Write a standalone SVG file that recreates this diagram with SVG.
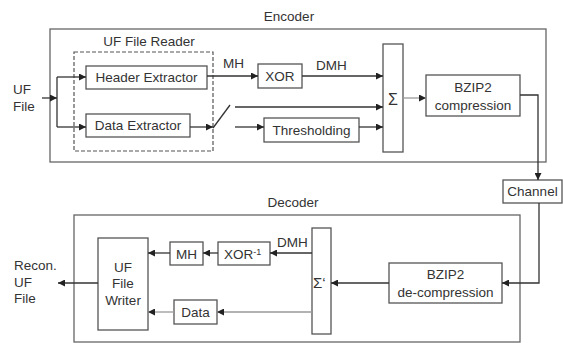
<svg xmlns="http://www.w3.org/2000/svg" width="563" height="343" viewBox="0 0 563 343">
<defs>
<marker id="ah" viewBox="0 0 10 10" refX="10" refY="5" markerWidth="7" markerHeight="7" markerUnits="userSpaceOnUse" orient="auto"><path d="M0,0 L10,5 L0,10 z" fill="#222"/></marker>
</defs>
<style>
text{font-family:"Liberation Sans",Arial,sans-serif;font-size:13.5px;fill:#333}
.m{text-anchor:middle}
.box{fill:#fff;stroke:#555;stroke-width:1.3}
.frame{fill:none;stroke:#666;stroke-width:1.3}
.dash{fill:none;stroke:#555;stroke-width:1.2;stroke-dasharray:4 2}
.ln{fill:none;stroke:#333;stroke-width:1.3}
.lt{fill:none;stroke:#999;stroke-width:1.3}
.ar{marker-end:url(#ah)}
</style>
<rect width="563" height="343" fill="#fff"/>
<g id="encoder">
<rect class="frame" x="50" y="29" width="496" height="133"/>
<text class="m" x="289" y="21">Encoder</text>
</g>
<g id="uf-file-reader">
<rect class="dash" x="74" y="52" width="139" height="99"/>
<text class="m" x="149" y="46">UF File Reader</text>
</g>
<g id="uf-file-in"><text x="13" y="94">UF</text><text x="13" y="111">File</text></g>
<g id="header-extractor"><rect class="box" x="86" y="66" width="121" height="23"/><text class="m" x="146.5" y="82">Header Extractor</text></g>
<g id="data-extractor"><rect class="box" x="86" y="114" width="104" height="23"/><text class="m" x="138" y="130">Data Extractor</text></g>
<g id="xor"><rect class="box" x="258" y="64" width="44" height="24"/><text class="m" x="280" y="81">XOR</text></g>
<g id="thresholding"><rect class="box" x="264" y="118" width="95" height="24"/><text class="m" x="311.5" y="135">Thresholding</text></g>
<g id="sum"><rect class="box" x="383" y="44" width="20" height="108"/><text class="m" x="393" y="105" style="font-size:16px">Σ</text></g>
<g id="bzip2"><rect class="box" x="426" y="75" width="94" height="41"/><text class="m" x="473" y="92">BZIP2</text><text class="m" x="473" y="110">compression</text></g>
<g id="channel"><rect class="box" x="503" y="180" width="59" height="23"/><text class="m" x="532.5" y="196">Channel</text></g>
<g id="decoder">
<rect class="frame" x="74" y="215" width="446" height="127"/>
<text class="m" x="293" y="207">Decoder</text>
</g>
<g id="bzip2-de"><rect class="box" x="389" y="263" width="113" height="40"/><text class="m" x="445.5" y="279">BZIP2</text><text class="m" x="445.5" y="297">de-compression</text></g>
<g id="sum-inv"><rect class="box" x="312" y="228" width="19" height="106"/><text x="313" y="288" style="font-size:15px">Σ‘</text></g>
<g id="xor-inv"><rect class="box" x="218" y="242" width="52" height="23"/><text x="224" y="259">XOR<tspan dy="-4" style="font-size:9px">-1</tspan></text></g>
<g id="mh"><rect class="box" x="170" y="242" width="33" height="23"/><text class="m" x="186.5" y="259">MH</text></g>
<g id="data"><rect class="box" x="174" y="300" width="43" height="24"/><text class="m" x="195.5" y="317">Data</text></g>
<g id="uf-file-writer"><rect class="box" x="98" y="238" width="50" height="92"/><text class="m" x="123" y="272">UF</text><text class="m" x="123" y="288">File</text><text class="m" x="123" y="305">Writer</text></g>
<g id="recon-out"><text x="14" y="270">Recon.</text><text x="14" y="287">UF</text><text x="14" y="303">File</text></g>
<g id="connectors">
<path class="ln ar" d="M42,98 H57"/>
<path class="ln" d="M57,77 V127"/>
<path class="ln ar" d="M57,77 H86"/>
<path class="ln ar" d="M57,127 H86"/>
<path class="ln ar" d="M207,76 H258"/>
<text x="223" y="68">MH</text>
<path class="ln ar" d="M302,76 H383"/>
<text x="316" y="70">DMH</text>
<path class="ln ar" d="M190,127 H213"/>
<path class="ln" d="M213,128 L230,105"/>
<path class="ln ar" d="M235,107 H383"/>
<path class="ln ar" d="M235,127 H264"/>
<path class="ln ar" d="M359,127 H383"/>
<path class="lt ar" d="M403,98 H426"/>
<path class="ln ar" d="M520,95 H538 V180"/>
<path class="ln ar" d="M539,203 V283 H502"/>
<path class="ln ar" d="M389,283 H331"/>
<path class="ln ar" d="M312,253 H270"/>
<text x="277" y="247">DMH</text>
<path class="ln ar" d="M218,253 H203"/>
<path class="ln ar" d="M170,253 H148"/>
<path class="lt ar" d="M312,312 H217"/>
<path class="lt ar" d="M174,312 H148"/>
<path class="ln ar" d="M98,283 H58"/>
</g>
</svg>
